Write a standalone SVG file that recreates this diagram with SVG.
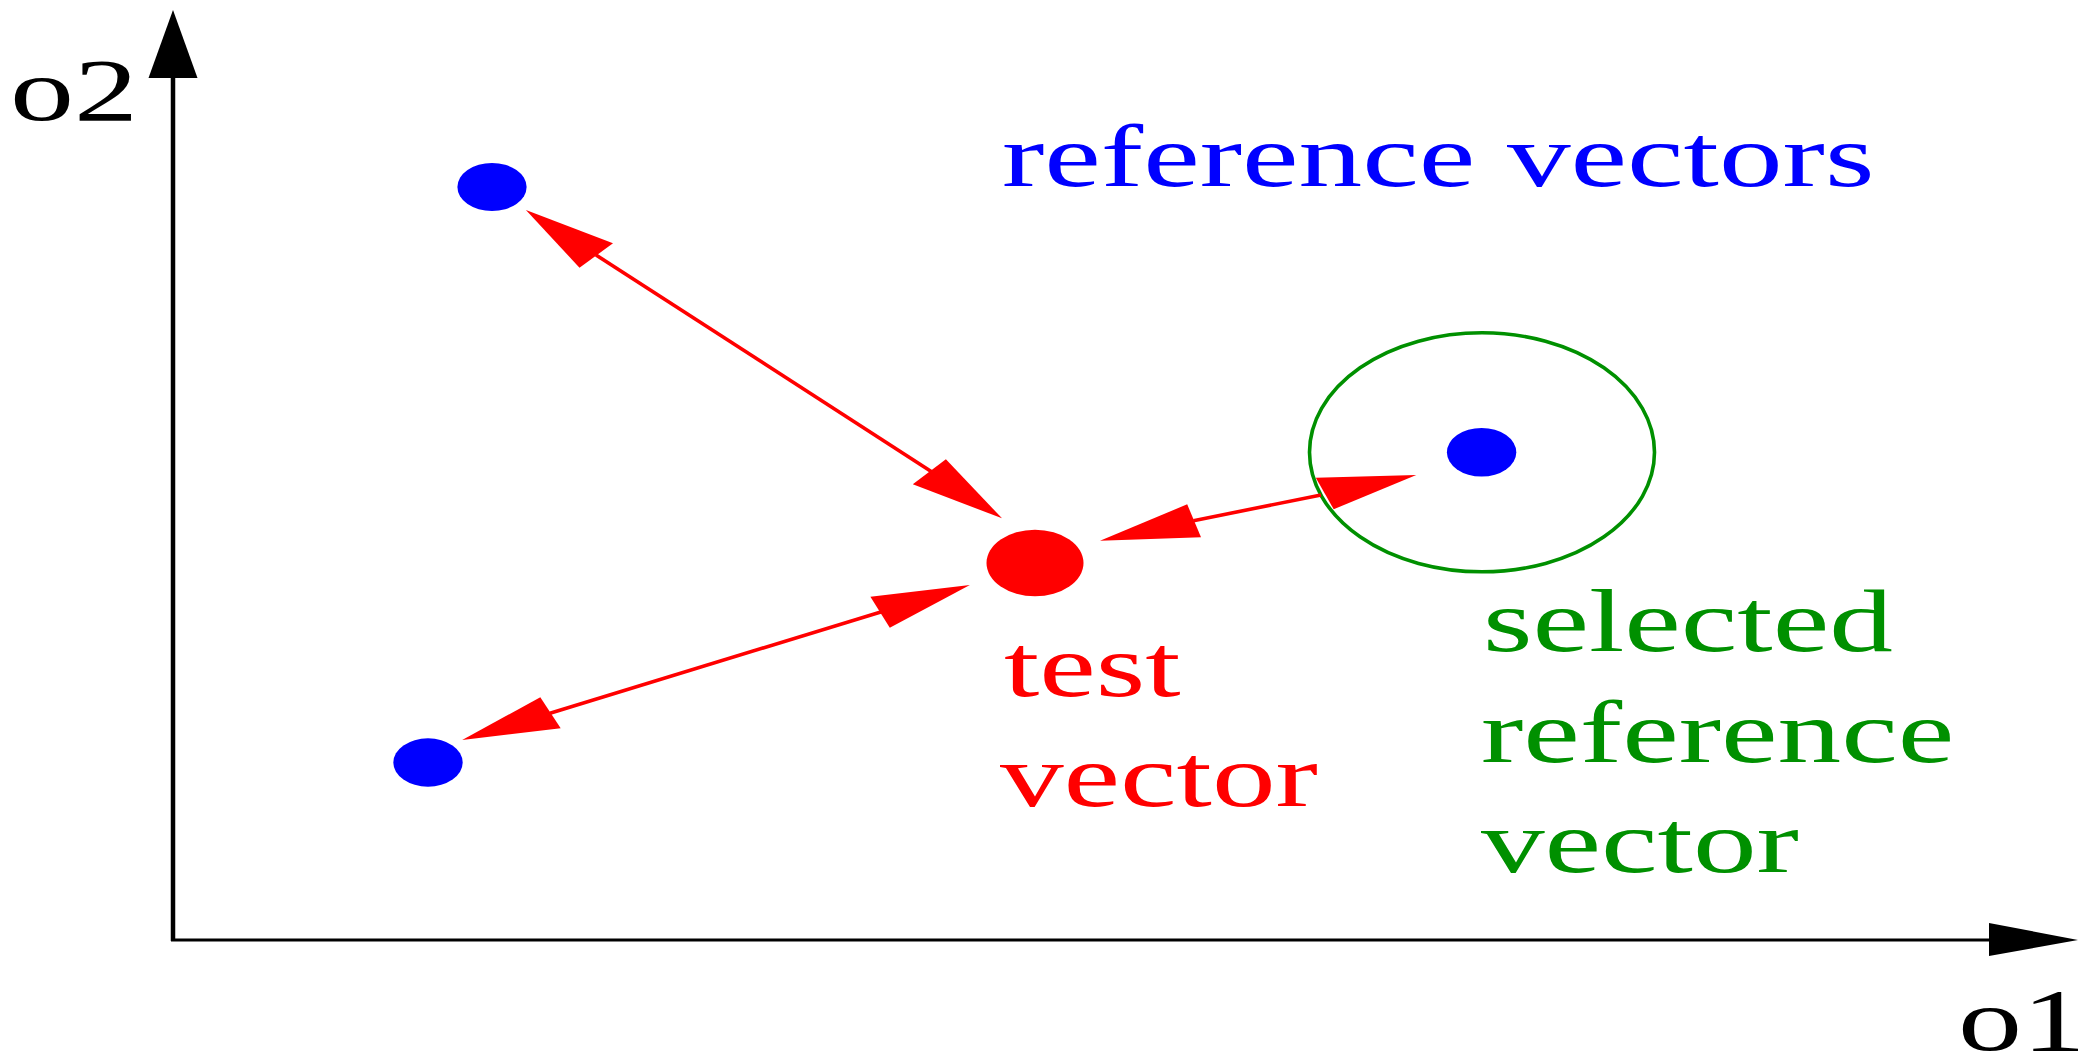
<svg xmlns="http://www.w3.org/2000/svg" width="2078" height="1057" viewBox="0 0 2078 1057">
<style>
.lbl{font-family:"Liberation Serif","Times New Roman",serif;font-size:89px}
.ref{fill:#0000ff}
.conn line{stroke:#ff0000;stroke-width:3.6}
.conn polygon{fill:#ff0000}
.ax{stroke:#000;fill:none}
</style>
<rect width="2078" height="1057" fill="#fff"/>
<g id="axes">
<line class="ax" x1="173" y1="941" x2="173" y2="76" stroke-width="4.5"/>
<polygon points="173,10 148.5,78 197.5,78" fill="#000"/>
<line class="ax" x1="171" y1="940" x2="1991" y2="940" stroke-width="3.2"/>
<polygon points="2078,940 1989,923 1989,956" fill="#000"/>
<text class="lbl" transform="matrix(1.44 0 0 1 10 120)">o2</text>
<text class="lbl" transform="matrix(1.44 0 0 1 1958 1050)">o1</text>
</g>
<g id="ref1"><ellipse class="ref" cx="492" cy="187" rx="34.6" ry="24"/></g>
<g id="ref2"><ellipse class="ref" cx="428" cy="762.5" rx="34.7" ry="24.2"/></g>
<g id="selected">
<ellipse cx="1482" cy="452.3" rx="172.5" ry="119.5" fill="none" stroke="#009000" stroke-width="3.6"/>
<ellipse class="ref" cx="1481.6" cy="452.3" rx="34.7" ry="24.3"/>
</g>
<g id="test"><ellipse cx="1035" cy="563" rx="48.5" ry="33.3" fill="#ff0000"/></g>
<g id="connectors" class="conn">
<line x1="596" y1="255" x2="931.6" y2="471.7"/>
<polygon points="525.9,210 613,243.3 579.5,267.7"/>
<polygon points="1002,518.3 945.9,459.3 912.8,484.3"/>
<line x1="1193.4" y1="520.7" x2="1321" y2="495"/>
<polygon points="1100,540.7 1187.2,504.3 1201,537.3"/>
<polygon points="1416.3,475 1315.8,477.7 1333.7,509.3"/>
<line x1="881.6" y1="611.7" x2="550" y2="713.3"/>
<polygon points="969.9,585 870.4,596.7 889.8,627.7"/>
<polygon points="462.2,740 540.3,697.3 560.7,728.3"/>
</g>
<g id="labels">
<text class="lbl" fill="#0000ff" transform="matrix(1.43 0 0 1 1002 186)">reference vectors</text>
<text class="lbl" fill="#ff0000" transform="matrix(1.43 0 0 1 1004 696)">test</text>
<text class="lbl" fill="#ff0000" transform="matrix(1.43 0 0 1 1000 806)">vector</text>
<text class="lbl" fill="#009000" transform="matrix(1.43 0 0 1 1483 651)">selected</text>
<text class="lbl" fill="#009000" transform="matrix(1.43 0 0 1 1481 762)">reference</text>
<text class="lbl" fill="#009000" transform="matrix(1.43 0 0 1 1481 872)">vector</text>
</g>
</svg>
